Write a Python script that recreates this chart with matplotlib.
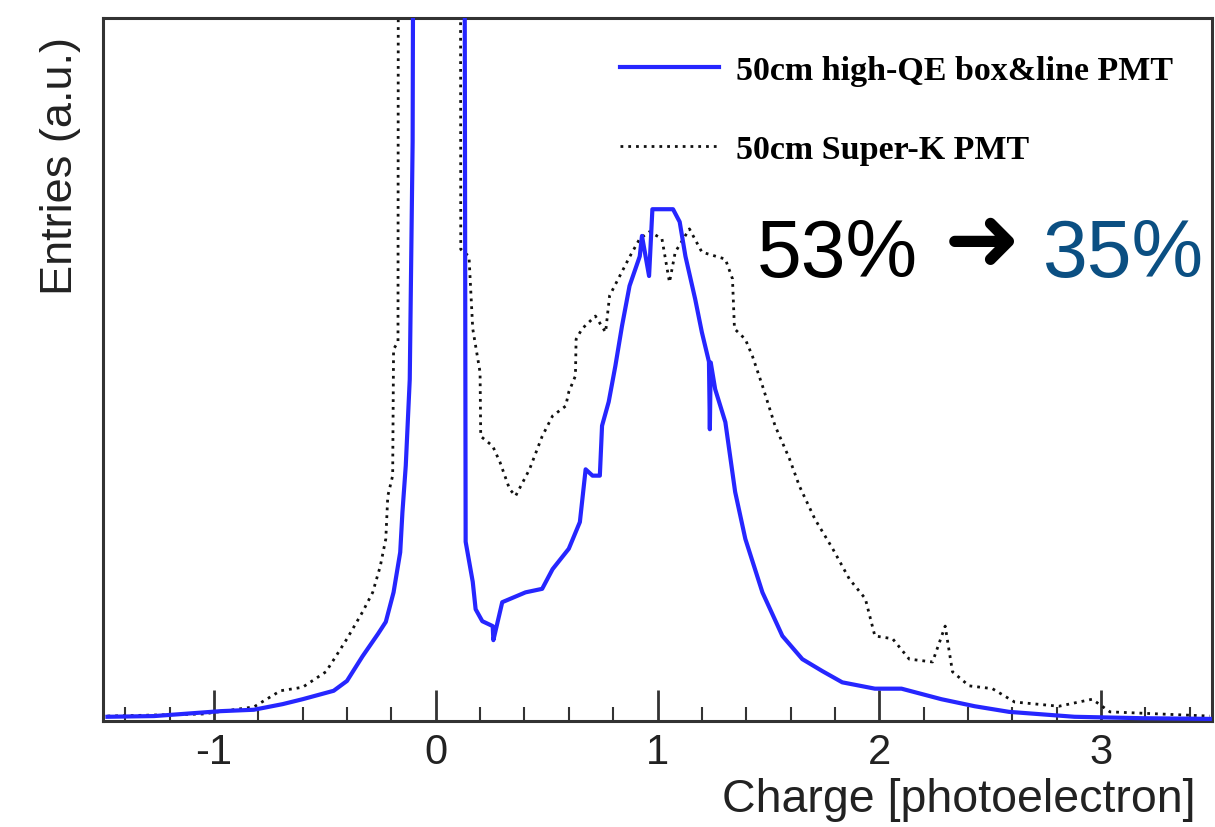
import matplotlib
matplotlib.use("Agg")
import matplotlib.pyplot as plt
from matplotlib.ticker import MultipleLocator

plt.rcParams['axes.unicode_minus'] = False

# charge in photoelectrons, entries in arbitrary units (frame top = 100)
hqe_charge = [-1.48, -1.27, -0.97, -0.82, -0.69, -0.60, -0.46, -0.40, -0.33, -0.26,
              -0.225, -0.19, -0.16, -0.15, -0.135, -0.117, -0.104, -0.09, -0.05, 0.0,
              0.05, 0.10, 0.13, 0.135, 0.167, 0.18, 0.21, 0.257, 0.26, 0.30,
              0.405, 0.48, 0.527, 0.60, 0.65, 0.676, 0.707, 0.74, 0.75, 0.78,
              0.81, 0.84, 0.874, 0.92, 0.93, 0.962, 0.977, 1.02, 1.07, 1.10,
              1.126, 1.17, 1.20, 1.232, 1.236, 1.24, 1.26, 1.306, 1.35, 1.396,
              1.473, 1.563, 1.653, 1.743, 1.833, 1.98, 2.10, 2.28, 2.43, 2.585,
              2.88, 3.18, 3.49]
hqe_entries = [0.6, 0.7, 1.4, 1.6, 2.4, 3.1, 4.3, 5.7, 9.2, 12.4,
               14.1, 18.3, 24.0, 29.7, 36.3, 48.6, 82.4, 250, 400, 600,
               400, 200, 120, 25.5, 19.8, 15.9, 14.2, 13.5, 11.5, 16.9,
               18.3, 18.8, 21.6, 24.5, 28.3, 35.8, 34.9, 34.9, 42.0, 45.4,
               50.5, 56.2, 61.9, 66.1, 69.0, 63.3, 72.8, 72.8, 72.8, 71.0,
               66.1, 60.0, 55.3, 51.1, 41.5, 51.0, 47.2, 42.5, 32.6, 25.9,
               18.3, 12.1, 8.8, 7.1, 5.5, 4.6, 4.6, 3.1, 2.1, 1.3,
               0.6, 0.4, 0.3]

sk_charge = [-1.48, -1.05, -0.82, -0.70, -0.60, -0.495, -0.45, -0.40, -0.33, -0.284,
             -0.25, -0.225, -0.216, -0.194, -0.19, -0.17, -0.165, -0.10, 0.0, 0.05,
             0.108, 0.113, 0.15, 0.167, 0.20, 0.203, 0.257, 0.29, 0.333, 0.36,
             0.423, 0.48, 0.527, 0.586, 0.60, 0.63, 0.633, 0.66, 0.72, 0.766,
             0.784, 0.874, 0.92, 0.964, 1.02, 1.054, 1.08, 1.144, 1.20, 1.306,
             1.338, 1.347, 1.396, 1.428, 1.473, 1.53, 1.595, 1.64, 1.71, 1.79,
             1.865, 1.937, 1.98, 2.06, 2.135, 2.24, 2.297, 2.33, 2.405, 2.51,
             2.61, 2.81, 2.96, 3.04, 3.49]
sk_entries = [0.7, 1.0, 2.0, 4.3, 4.8, 7.0, 9.2, 11.7, 15.5, 18.3,
              22.0, 25.9, 32.0, 34.9, 52.9, 53.9, 250, 400, 600, 400,
              250, 67.1, 66.1, 55.8, 49.6, 40.5, 39.1, 36.8, 33.0, 32.0,
              35.8, 40.5, 43.4, 44.8, 46.8, 49.1, 54.3, 55.8, 57.6, 55.3,
              60.5, 66.0, 68.6, 69.6, 68.6, 62.4, 66.7, 70.0, 66.7, 65.7,
              62.9, 55.8, 54.3, 51.9, 47.7, 42.0, 37.3, 33.4, 28.7, 24.5,
              20.2, 17.4, 12.1, 11.7, 8.8, 8.4, 13.5, 7.0, 5.0, 4.6,
              2.7, 2.1, 3.1, 1.3, 0.7]

fig = plt.figure(figsize=(12.15, 8.28), dpi=100)
ax = fig.add_axes([103 / 1215, 106 / 828, 1109 / 1215, 703 / 828])

ax.plot(sk_charge, sk_entries, color='#111111', lw=2.0, linestyle=(0, (1, 1.8)),
        label='50cm Super-K PMT', zorder=2)
ax.plot(hqe_charge, hqe_entries, color='#2626ff', lw=3.0,
        label='50cm high-QE box&line PMT', zorder=3)

ax.set_xlim(-1.5, 3.5)
ax.set_ylim(0, 100)

for s in ax.spines.values():
    s.set_linewidth(2.2)
    s.set_color('#333333')

ax.xaxis.set_major_locator(MultipleLocator(1))
ax.xaxis.set_minor_locator(MultipleLocator(0.2))
ax.tick_params(axis='x', which='major', direction='in', length=22, width=2,
               color='#333333', labelsize=30, labelcolor='#222222', pad=8)
ax.tick_params(axis='x', which='minor', direction='in', length=10, width=1.5,
               color='#333333')
ax.set_yticks([])
for lab in ax.get_xticklabels():
    lab.set_fontfamily('Liberation Sans')

ax.set_xlabel('Charge [photoelectron]', loc='right', fontsize=33.5,
              family='Liberation Sans', color='#222222')
ax.xaxis.set_label_coords(0.985, -0.08)
ax.set_ylabel('Entries (a.u.)', loc='top', fontsize=32.5,
              family='Liberation Sans', color='#222222')
ax.yaxis.set_label_coords(-0.02, 0.975)

handles, labels = ax.get_legend_handles_labels()
ax.legend(handles[::-1], labels[::-1], loc='upper left',
          bbox_to_anchor=(620 / 1215, 1 - 56 / 828), bbox_transform=fig.transFigure,
          frameon=False, borderpad=0, borderaxespad=0, handlelength=2.9,
          handletextpad=0.5, labelspacing=1.4,
          prop={'family': 'Liberation Serif', 'weight': 'bold', 'size': 24.5})

fig.text(757 / 1215, 1 - 277 / 828, '53%', fontsize=58, family='Liberation Sans',
         color='black', ha='left', va='baseline')
fig.text(982 / 1215, 1 - 244 / 828, '\u279c', fontsize=66, family='DejaVu Sans',
         color='black', ha='center', va='center')
fig.text(1043 / 1215, 1 - 277 / 828, '35%', fontsize=58, family='Liberation Sans',
         color='#0b4f82', ha='left', va='baseline')

plt.savefig('out.png', dpi=100)
